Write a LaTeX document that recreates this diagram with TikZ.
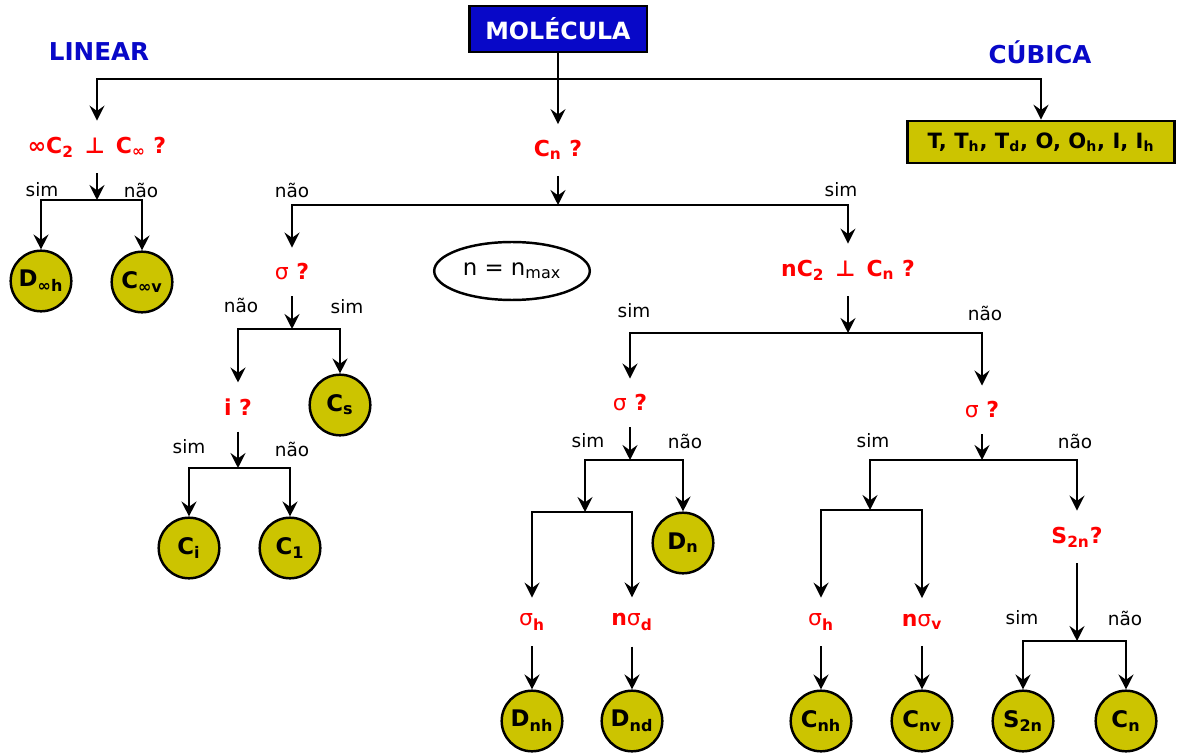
\documentclass[tikz,border=0pt]{standalone}
\usepackage{fontspec}
\setmainfont{DejaVu Sans}
\usepackage{tikz}
\usetikzlibrary{arrows.meta,shapes.geometric}
\definecolor{ylw}{RGB}{204,196,0}
\definecolor{molblue}{RGB}{8,8,200}

\begin{document}
\begin{tikzpicture}[x=0.02cm, y=-0.02cm,
    title/.style={text=molblue, font=\bfseries\fontsize{14}{16}\selectfont},
    quest/.style={text=red, font=\bfseries\fontsize{12.5}{14}\selectfont, inner xsep=2pt, inner ysep=9pt},
    answ/.style={font=\fontsize{10.5}{12}\selectfont, inner sep=1pt},
    grp/.style={circle, draw=black, line width=1.4pt, fill=ylw, minimum size=34.5pt, inner sep=0pt, font=\bfseries\fontsize{13}{15}\selectfont},
    arrow/.style={-{Stealth[length=8.5pt,width=8.5pt,inset=3pt]}, line width=1.4pt}
  ]
    \useasboundingbox (0,0) rectangle (1177,753);
    % top level
    \node[draw=black, line width=1.4pt, fill=molblue, text=white, minimum width=101pt, minimum height=26pt, font=\bfseries\fontsize{13.5}{16}\selectfont] (mol) at (558,29) {MOLÉCULA};
    \node[title] (linear) at (99,52) {LINEAR};
    \node[title] (cubica) at (1040,52) {CÚBICA};
    \node[draw=black, line width=1.4pt, fill=ylw, minimum width=152pt, minimum height=24pt, font=\bfseries\fontsize{12}{14}\selectfont] (cubic) at (1041,142) {T, T\textsubscript{h}, T\textsubscript{d}, O, O\textsubscript{h}, I, I\textsubscript{h}};
    \coordinate (j0) at (558,79);

    % linear
    \node[quest] (lin) at (97,147) {∞C\textsubscript{2}\enspace ⊥\enspace C\textsubscript{∞} ?};
    \coordinate (j1) at (97,200);
    \node[answ] (s1) at (42,190) {sim};
    \node[answ] (n1) at (141,190) {não};
    \node[grp] (dinfh) at (41,281) {D\textsubscript{∞h}};
    \node[grp] (cinfv) at (142,282) {C\textsubscript{∞v}};

    % Cn
    \node[quest] (cn) at (558,150) {C\textsubscript{n} ?};
    \coordinate (j2) at (558,205);
    \node[answ] (n2) at (292,190) {não};
    \node[answ] (s2) at (841,190) {sim};
    \node[ellipse, draw=black, line width=1.4pt, minimum width=85pt, minimum height=33pt, font=\fontsize{13}{15}\selectfont] (nmax) at (512,271) {n = n\textsubscript{max}};

    % no Cn
    \node[quest] (sig) at (292,272) {{\mdseries σ} ?};
    \coordinate (j3) at (292,329);
    \node[answ] (n3) at (241,305) {não};
    \node[answ] (s3) at (347,307) {sim};
    \node[quest] (iq) at (238,407) {i ?};
    \node[grp] (cs) at (340,405) {C\textsubscript{s}};
    \coordinate (j4) at (238,468);
    \node[answ] (s4) at (189,447) {sim};
    \node[answ] (n4) at (292,449) {não};
    \node[grp] (ci) at (189,548) {C\textsubscript{i}};
    \node[grp] (cone) at (290,548) {C\textsubscript{1}};

    % Cn
    \node[quest] (perp) at (848,270) {nC\textsubscript{2}\enspace ⊥\enspace C\textsubscript{n} ?};
    \coordinate (j5) at (848,333);
    \node[answ] (s5) at (634,311) {sim};
    \node[answ] (n5) at (985,313) {não};

    % D groups
    \node[quest] (sigA) at (630,403) {{\mdseries σ} ?};
    \coordinate (j6) at (630,460);
    \node[answ] (s6) at (588,441) {sim};
    \node[answ] (n6) at (685,441) {não};
    \coordinate (j7) at (585,512);
    \node[grp] (dn) at (683,543) {D\textsubscript{n}};
    \node[quest] (sighA) at (532,622) {{\mdseries σ}\textsubscript{h}};
    \node[quest] (nsigd) at (632,622) {n{\mdseries σ}\textsubscript{d}};
    \node[grp] (dnh) at (532,721) {D\textsubscript{nh}};
    \node[grp] (dnd) at (632,721) {D\textsubscript{nd}};

    % C groups
    \node[quest] (sigB) at (982,410) {{\mdseries σ} ?};
    \coordinate (j8) at (982,460);
    \node[answ] (s8) at (873,441) {sim};
    \node[answ] (n8) at (1075,441) {não};
    \coordinate (j9) at (870,510);
    \node[quest] (s2nq) at (1077,537) {S\textsubscript{2n}?};
    \node[quest] (sighB) at (821,622) {{\mdseries σ}\textsubscript{h}};
    \node[quest] (nsigv) at (922,622) {n{\mdseries σ}\textsubscript{v}};
    \node[grp] (cnh) at (821,721) {C\textsubscript{nh}};
    \node[grp] (cnv) at (922,721) {C\textsubscript{nv}};
    \coordinate (j10) at (1077,641);
    \node[answ] (s10) at (1022,618) {sim};
    \node[answ] (n10) at (1125,618) {não};
    \node[grp] (s2n) at (1023,721) {S\textsubscript{2n}};
    \node[grp] (cnf) at (1126,721) {C\textsubscript{n}};

    \draw[arrow] (mol) -- (cn);
    \draw[arrow] (j0) -| (lin);
    \draw[arrow] (j0) -| (cubic);
    \draw[arrow] (lin) -- (j1);
    \draw[arrow] (j1) -| (dinfh);
    \draw[arrow] (j1) -| (cinfv);
    \draw[arrow] (cn) -- (j2);
    \draw[arrow] (j2) -| (sig);
    \draw[arrow] (j2) -| (perp);
    \draw[arrow] (sig) -- (j3);
    \draw[arrow] (j3) -| (iq);
    \draw[arrow] (j3) -| (cs);
    \draw[arrow] (iq) -- (j4);
    \draw[arrow] (j4) -| (ci);
    \draw[arrow] (j4) -| (cone);
    \draw[arrow] (perp) -- (j5);
    \draw[arrow] (j5) -| (sigA);
    \draw[arrow] (j5) -| (sigB);
    \draw[arrow] (sigA) -- (j6);
    \draw[arrow] (j6) -| (j7);
    \draw[arrow] (j6) -| (dn);
    \draw[arrow] (j7) -| (sighA);
    \draw[arrow] (j7) -| (nsigd);
    \draw[arrow] (sighA) -- (dnh);
    \draw[arrow] (nsigd) -- (dnd);
    \draw[arrow] (sigB) -- (j8);
    \draw[arrow] (j8) -| (j9);
    \draw[arrow] (j8) -| (s2nq);
    \draw[arrow] (j9) -| (sighB);
    \draw[arrow] (j9) -| (nsigv);
    \draw[arrow] (sighB) -- (cnh);
    \draw[arrow] (nsigv) -- (cnv);
    \draw[arrow] (s2nq) -- (j10);
    \draw[arrow] (j10) -| (s2n);
    \draw[arrow] (j10) -| (cnf);
  \end{tikzpicture}
\end{document}
